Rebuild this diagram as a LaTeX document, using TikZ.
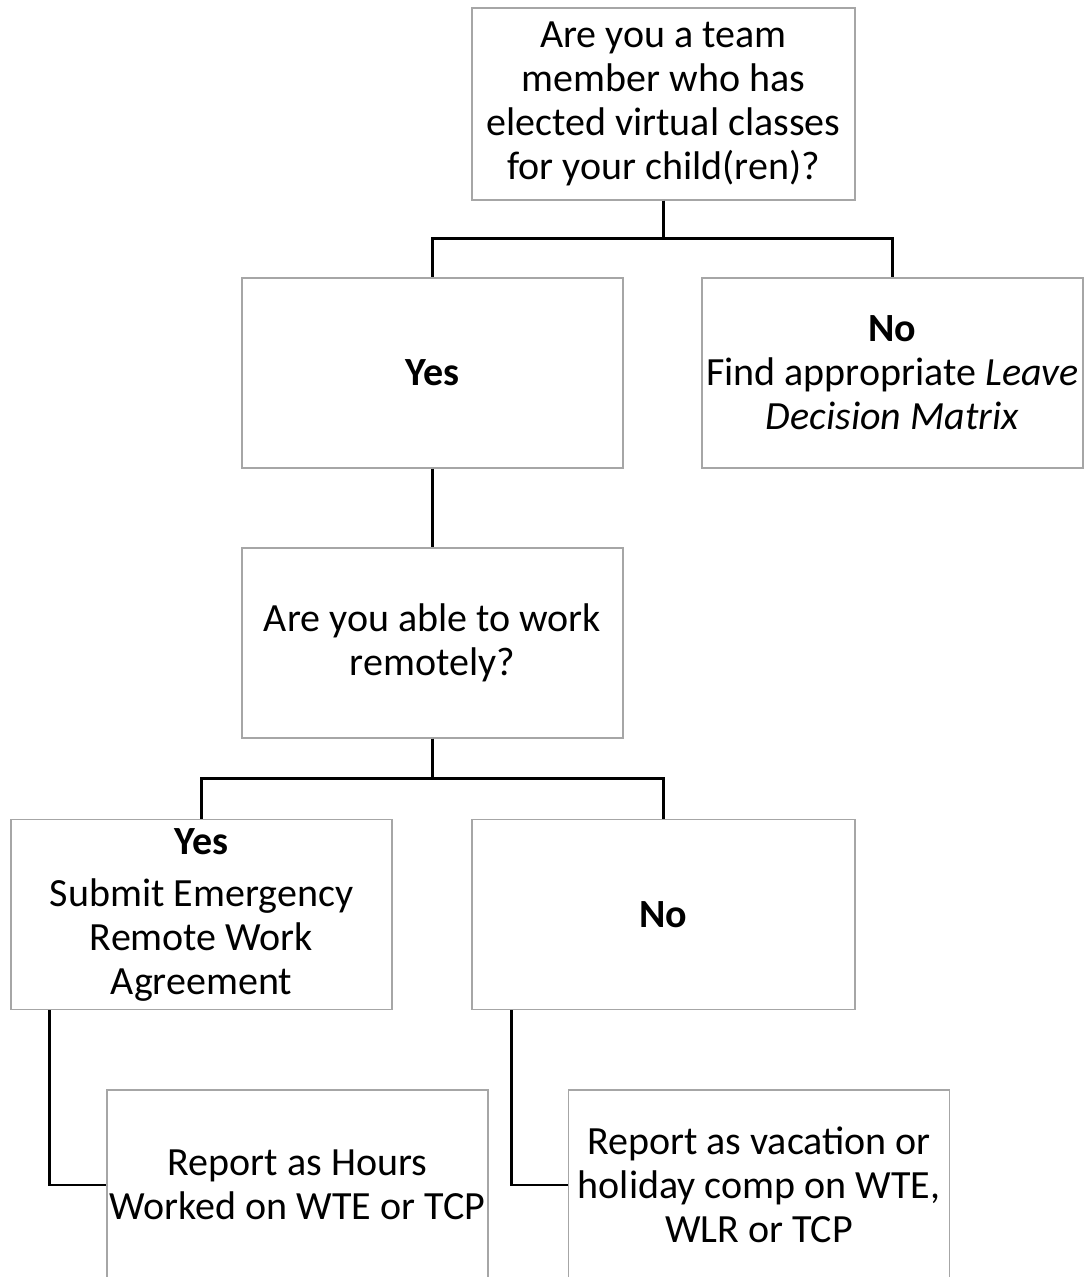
\documentclass[tikz,border=0pt]{standalone}
\usepackage{fontspec}
\setmainfont{Carlito}
\begin{document}
\begin{tikzpicture}[x=0.5pt,y=-0.5pt,
    box/.style={draw=gray!70,line width=0.6pt,minimum width=190.5pt,minimum height=95pt,
                inner sep=0pt,align=center,font=\fontsize{20}{22}\selectfont},
    link/.style={draw=black,line width=1.3pt}]
  \useasboundingbox (0,0) rectangle (1084,1277);
  \clip (0,0) rectangle (1084,1277);

  \node[box,minimum width=191.5pt,minimum height=96pt] (top) at (663.5,104)
       {Are you a team\\member who has\\elected virtual classes\\for your child(ren)?};
  \node[box] (yes)      at (432.5,373) {\textbf{Yes}};
  \node[box] (no)       at (892.5,373) {\textbf{No}\\Find appropriate \textit{Leave}\\\textit{Decision Matrix}};
  \node[box] (remote)   at (432.5,643) {Are you able to work\\remotely?};
  \node[box] (yestwo)   at (201.5,914.5) {\textbf{Yes}\\[4pt]Submit Emergency\\Remote Work\\Agreement};
  \node[box,minimum width=191.5pt] (notwo) at (663.5,914.5) {\textbf{No}};
  \node[box] (hours)    at (297.5,1185) {Report as Hours\\Worked on WTE or TCP};
  \node[box] (vacation) at (759,1185) {Report as vacation or\\holiday comp on WTE,\\WLR or TCP};

  \draw[link] (top.south) -- ++(0,38) -| (yes.north);
  \draw[link] (top.south) -- ++(0,38) -| (no.north);
  \draw[link] (yes.south) -- (remote.north);
  \draw[link] (remote.south) -- ++(0,40) -| (yestwo.north);
  \draw[link] (remote.south) -- ++(0,40) -| (notwo.north);
  \draw[link] (yestwo.south west) ++(39,0) |- (hours.west);
  \draw[link] (notwo.south west) ++(40,0) |- (vacation.west);
\end{tikzpicture}
\end{document}
